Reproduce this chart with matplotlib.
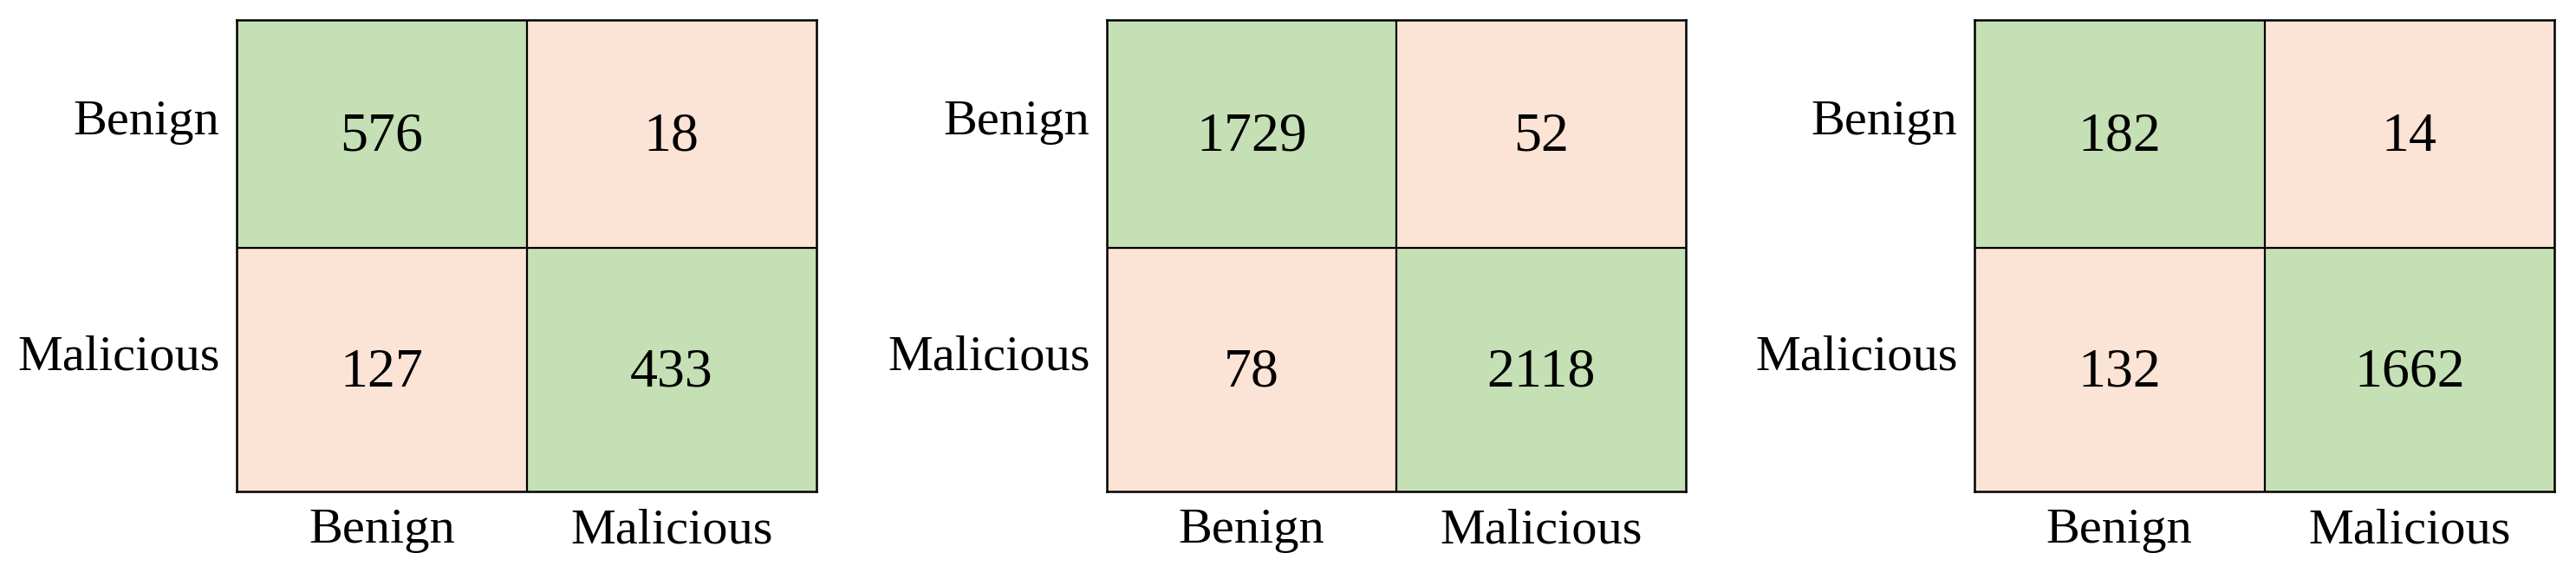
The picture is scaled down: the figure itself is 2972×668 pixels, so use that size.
import numpy as np
import matplotlib
matplotlib.use("Agg")
import matplotlib.pyplot as plt
from matplotlib.colors import ListedColormap

# class labels shared by all three matrices
labels = ["Benign", "Malicious"]

# confusion matrices (rows = actual, cols = predicted)
cm_a = [[576, 18], [127, 433]]
cm_b = [[1729, 52], [78, 2118]]
cm_c = [[182, 14], [132, 1662]]

green = "#C5E0B4"
pink = "#FBE3D6"

plt.rcParams['font.family'] = ['Liberation Serif', 'DejaVu Serif']

W, H = 2972, 668
fig = plt.figure(figsize=(W / 100, H / 100), dpi=100)

# axes boxes in pixels: left, right (top 23, bottom 567 for all)
boxes = [(273, 942), (1277, 1945), (2278, 2947)]
top, bottom = 23, 567
# the row divider in the original sits a little above the middle
row_split = 0.467

for cm, (x0, x1) in zip([cm_a, cm_b, cm_c], boxes):
    ax = fig.add_axes([x0 / W, (H - bottom) / H, (x1 - x0) / W, (bottom - top) / H])
    data = np.array(cm)
    n = len(labels)
    # diagonal = correct predictions (green), off diagonal = errors (pink)
    correct = np.eye(n)
    xe = [-0.5, 0.5, 1.5]
    ye = [-0.5, row_split, 1.5]
    ax.pcolormesh(xe, ye, correct, cmap=ListedColormap([pink, green]),
                  vmin=0, vmax=1)
    ax.set_xlim(-0.5, 1.5)
    ax.set_ylim(1.5, -0.5)

    for i in range(n):
        for j in range(n):
            ax.text(j, i, str(data[i, j]), ha='center', va='center',
                    fontsize=46, color='black')

    # cell borders
    ax.axhline(row_split, color='black', lw=1.6)
    ax.axvline(0.5, color='black', lw=1.6)
    for sp in ax.spines.values():
        sp.set_linewidth(1.8)
        sp.set_color('black')

    ax.set_xticks(range(n))
    ax.set_yticks([(ye[0] + ye[1]) / 2, (ye[1] + ye[2]) / 2])
    ax.set_xticklabels(labels, fontsize=42)
    ax.set_yticklabels(labels, fontsize=42)
    ax.tick_params(length=0, pad=14)
    for lbl in ax.get_yticklabels():
        lbl.set_va('baseline')

fig.savefig("out.png", dpi=100, facecolor='white')
